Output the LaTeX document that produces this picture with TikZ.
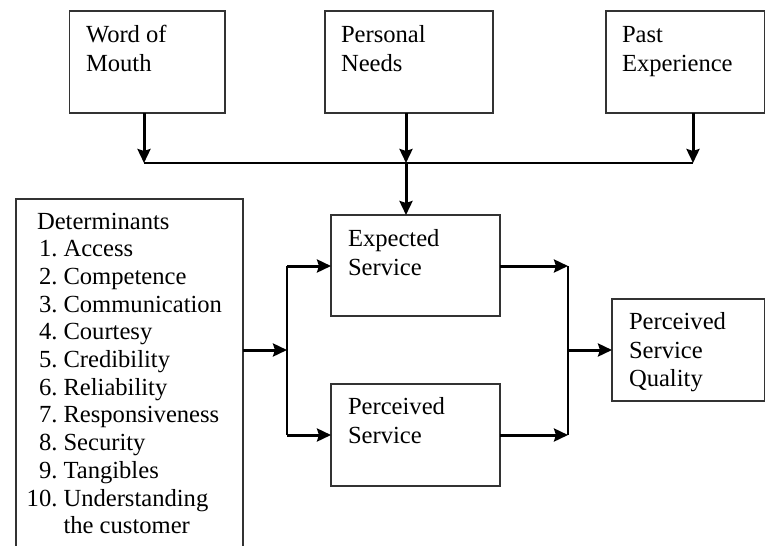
\documentclass[tikz,border=0pt]{standalone}
\usepackage{fontspec}
\setmainfont{Liberation Serif}
\usetikzlibrary{arrows.meta}

\tikzset{
  box/.style={draw=black!80, line width=1.4pt, rectangle, inner sep=0pt, outer sep=0pt, anchor=north west},
  txt/.style={inner sep=0pt, outer sep=0pt, anchor=base west, font=\fontsize{24.6}{27.7}\selectfont},
  num/.style={inner sep=0pt, outer sep=0pt, anchor=base east, font=\fontsize{24.6}{27.7}\selectfont},
  conn/.style={line width=3pt, -{Stealth[length=14pt,width=13pt,inset=2pt]}},
  link/.style={line width=2.8pt},
}

\begin{document}
\begin{tikzpicture}[x=1pt,y=-1pt]
\clip (0,0) rectangle (766,546);
\fill[white] (0,0) rectangle (766,546);

% --- boxes -----------------------------------------------------------------
\node[box, minimum width=155.5, minimum height=102] (wom) at (69.5,11) {};
\node[box, minimum width=168,   minimum height=102] (pn)  at (325,11)  {};
\node[box, minimum width=158.5, minimum height=102] (pe)  at (606,11)  {};
\node[box, minimum width=227,   minimum height=370] (det) at (16,199)  {};
\node[box, minimum width=169,   minimum height=101] (exp) at (331,215) {};
\node[box, minimum width=169,   minimum height=102] (per) at (331,384) {};
\node[box, minimum width=152.5, minimum height=102] (psq) at (612,299) {};

% --- box texts -------------------------------------------------------------
\node[txt] (wom1) at (86,42.5) {Word of};
\node[txt] (wom2) at (86,71.5) {Mouth};
\node[txt] (pn1)  at (341,42.5) {Personal};
\node[txt] (pn2)  at (341,71.5) {Needs};
\node[txt] (pe1)  at (622,42.5) {Past};
\node[txt] (pe2)  at (622,71.5) {Experience};
\node[txt] (exp1) at (348,246) {Expected};
\node[txt] (exp2) at (348,275) {Service};
\node[txt] (per1) at (348,414) {Perceived};
\node[txt] (per2) at (348,443) {Service};
\node[txt] (psq1) at (629,329) {Perceived};
\node[txt] (psq2) at (629,358) {Service};
\node[txt] (psq3) at (629,386) {Quality};

% --- determinants list -----------------------------------------------------
\node[txt] (dh) at (37,229) {Determinants};
\foreach \n/\t [count=\i] in {1./Access, 2./Competence, 3./Communication,
    4./Courtesy, 5./Credibility, 6./Reliability, 7./Responsiveness,
    8./Security, 9./Tangibles, 10./Understanding} {
  \node[num] (dn\i) at (57.5,229+27.7*\i) {\n};
  \node[txt] (dt\i) at (63.5,229+27.7*\i) {\t};
}
\node[txt] (dt11) at (63.5,229+27.7*11) {the customer};

% --- junction points -------------------------------------------------------
\coordinate (busL) at (144,163);
\coordinate (busM) at (406,163);
\coordinate (busR) at (693,163);
\coordinate (sL)  at (287,350);
\coordinate (sLt) at (287,266);
\coordinate (sLb) at (287,435);
\coordinate (jR)  at (568,350);
\coordinate (jRt) at (568,266);
\coordinate (jRb) at (568,435);

% --- connectors ------------------------------------------------------------
\draw[link] (busL) -- (busR);
\draw[conn] (busL |- wom.south) -- (busL);
\draw[conn] (busM |- pn.south) -- (busM);
\draw[conn] (busR |- pe.south) -- (busR);
\draw[conn] (busM) -- (busM |- exp.north);

\draw[conn] (det.east |- sL) -- (sL);
\draw[link] (sLt) -- (sLb);
\draw[conn] (sLt) -- (exp.west |- sLt);
\draw[conn] (sLb) -- (per.west |- sLb);

\draw[conn] (exp.east |- jRt) -- (jRt);
\draw[conn] (per.east |- jRb) -- (jRb);
\draw[link] (jRt) -- (jRb);
\draw[conn] (jR) -- (psq.west |- jR);
\end{tikzpicture}
\end{document}
